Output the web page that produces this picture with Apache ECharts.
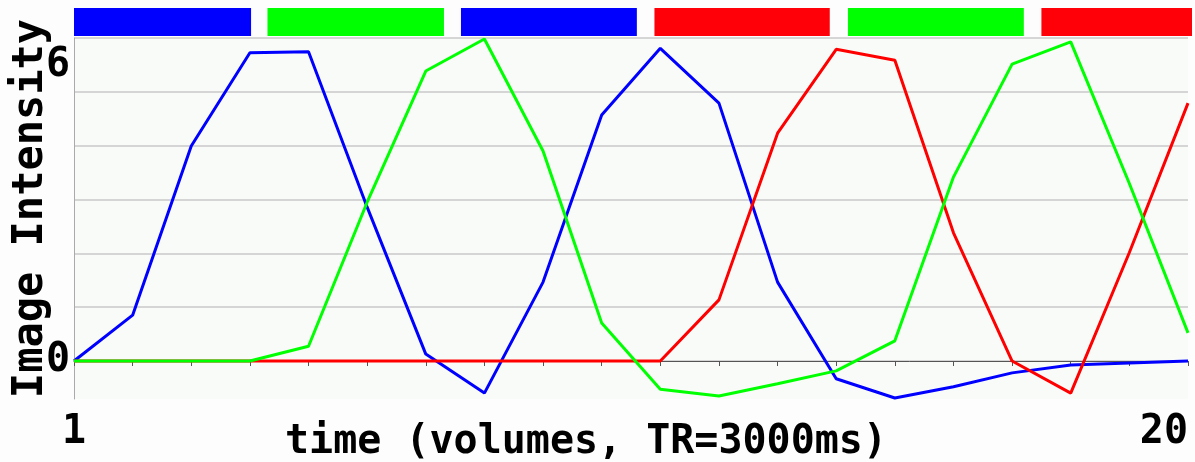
<!DOCTYPE html>
<html>
<head>
<meta charset="utf-8">
<script src="https://cdn.jsdelivr.net/npm/echarts@6/dist/echarts.min.js"></script>
<style>
html, body { margin: 0; padding: 0; background: #fff; }
#main { width: 1195px; height: 462px; }
</style>
</head>
<body>
<div id="main"></div>
<script>
// time points (volumes)
var volumes = [1, 2, 3, 4, 5, 6, 7, 8, 9, 10, 11, 12, 13, 14, 15, 16, 17, 18, 19, 20];

// image intensity for each condition
var blueSignal = [0, 0.93, 4.36, 6.25, 6.27, 3.12, 0.14, -0.65, 1.6, 4.99, 6.34, 5.23, 1.6, -0.36, -0.75, -0.52, -0.24, -0.08, -0.04, 0];
var greenSignal = [0, 0, 0, 0, 0.3, 3.22, 5.88, 6.53, 4.26, 0.77, -0.57, -0.71, -0.46, -0.2, 0.41, 3.73, 6.02, 6.47, 3.6, 0.57];
var redSignal = [0, 0, 0, 0, 0, 0, 0, 0, 0, 0, 0, 1.24, 4.62, 6.32, 6.1, 2.6, 0, -0.65, 2.2, 5.23];

// stimulus blocks shown above the plot
var blockStart = [1, 4.3, 7.6, 10.9, 14.2, 17.5];
var blockEnd = [4.02, 7.31, 10.6, 13.89, 17.2, 20.5];
var blockColor = ['#0000ff', '#00ff00', '#0000ff', '#ff0008', '#00ff00', '#ff0008'];

// tick labels
var xLabels = [1, 20];
var yLabels = [0, 6];

var yMin = -0.77, yMax = 6.55;
var gridValues = [];
for (var k = 0; k <= 6; k++) {
    gridValues.push(yMax * k / 6);
}

var font = 'DejaVu Sans Mono';

function toPairs(values) {
    return volumes.map(function (v, i) { return [v, values[i]]; });
}

var blocks = blockStart.map(function (s, i) {
    return { value: [s, blockEnd[i]], itemStyle: { color: blockColor[i] } };
});

var myChart = echarts.init(document.getElementById('main'));

var option = {
    backgroundColor: '#fcfdfc',
    animation: false,
    grid: [
        {
            left: 74, right: 7, top: 38, bottom: 63,
            outerBoundsMode: 'none', containLabel: false,
            show: true, backgroundColor: '#f9fbf9', borderWidth: 0
        },
        {
            left: 74, right: 7, top: 8, height: 28,
            outerBoundsMode: 'none', containLabel: false
        }
    ],
    xAxis: [
        {
            type: 'value', min: 1, max: 20, interval: 1,
            axisLine: { show: true, lineStyle: { color: '#555', width: 1 } },
            axisTick: { show: true, length: 5, lineStyle: { color: '#555', width: 1 } },
            splitLine: { show: false },
            axisLabel: {
                customValues: xLabels,
                alignMaxLabel: 'right',
                fontFamily: font, fontWeight: 'bold', fontSize: 40, color: '#000',
                margin: 14
            },
            name: 'time (volumes, TR=3000ms)',
            nameLocation: 'middle',
            nameGap: 24,
            nameMoveOverlap: false,
            nameTextStyle: {
                fontFamily: font, fontWeight: 'bold', fontSize: 40, color: '#000',
                padding: [0, 90, 0, 0]
            }
        },
        {
            gridIndex: 1, type: 'value', min: 1, max: 20, show: false
        }
    ],
    yAxis: [
        {
            type: 'value', min: yMin, max: yMax,
            axisLine: { show: true, lineStyle: { color: '#aaa', width: 1 } },
            axisTick: { show: false, customValues: gridValues },
            splitLine: { show: true, lineStyle: { color: '#c8c8c8', width: 1.5 } },
            axisLabel: {
                customValues: yLabels,
                fontFamily: font, fontWeight: 'bold', fontSize: 40, color: '#000',
                margin: 4,
                padding: [6, 0, 0, 0]
            },
            name: 'Image Intensity',
            nameLocation: 'middle',
            nameGap: 22,
            nameMoveOverlap: false,
            nameTextStyle: {
                fontFamily: font, fontWeight: 'bold', fontSize: 42, color: '#000',
                padding: [0, 0, 0, 20]
            }
        },
        {
            gridIndex: 1, type: 'value', min: 0, max: 1, show: false
        }
    ],
    series: [
        {
            type: 'custom',
            xAxisIndex: 1, yAxisIndex: 1,
            data: blocks,
            renderItem: function (params, api) {
                var p0 = api.coord([api.value(0), 1]);
                var p1 = api.coord([api.value(1), 0]);
                var cs = params.coordSys;
                var rect = echarts.graphic.clipRectByRect(
                    { x: p0[0], y: p0[1], width: p1[0] - p0[0], height: p1[1] - p0[1] },
                    { x: cs.x, y: cs.y, width: cs.width + 4, height: cs.height }
                );
                if (!rect) return;
                return { type: 'rect', shape: rect, style: { fill: api.visual('color') } };
            }
        },
        {
            name: 'blue', type: 'line', data: toPairs(blueSignal),
            showSymbol: false, lineStyle: { color: '#0000ff', width: 3 }, itemStyle: { color: '#0000ff' }
        },
        {
            name: 'red', type: 'line', data: toPairs(redSignal),
            showSymbol: false, lineStyle: { color: '#ff0000', width: 3 }, itemStyle: { color: '#ff0000' }
        },
        {
            name: 'green', type: 'line', data: toPairs(greenSignal),
            showSymbol: false, lineStyle: { color: '#00ff00', width: 3 }, itemStyle: { color: '#00ff00' }
        }
    ]
};
myChart.setOption(option);
</script>
</body>
</html>
